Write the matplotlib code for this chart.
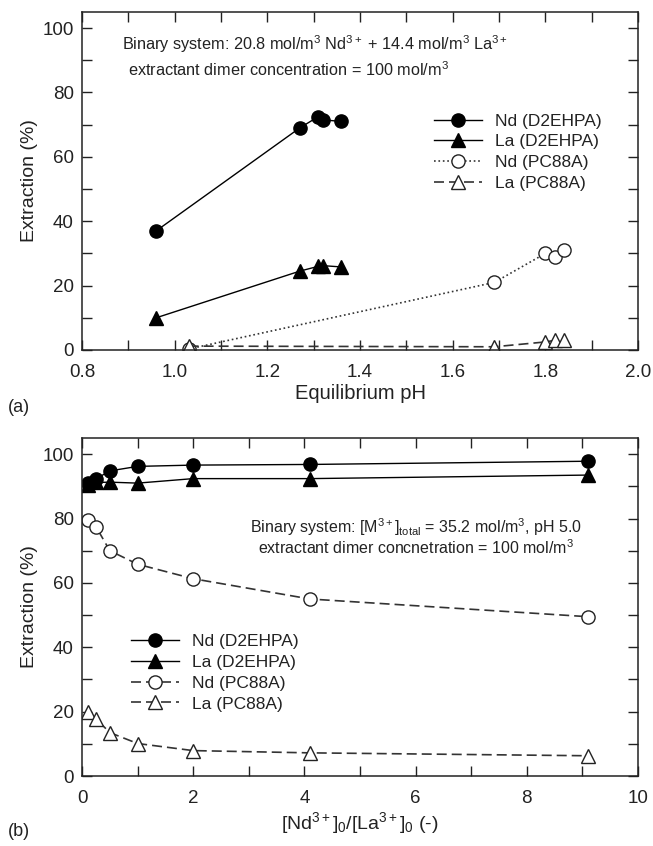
import matplotlib
matplotlib.use("Agg")
import matplotlib.pyplot as plt
from matplotlib.ticker import MultipleLocator

plt.rcParams['font.family'] = ['Liberation Sans', 'DejaVu Sans']
plt.rcParams['mathtext.fontset'] = 'custom'
plt.rcParams['mathtext.rm'] = 'Liberation Sans'
plt.rcParams['mathtext.it'] = 'Liberation Sans:italic'
plt.rcParams['mathtext.bf'] = 'Liberation Sans:bold'

TXT = '#222222'

# ---- Panel (a) data ----
ph_nd_d2 = [0.96, 1.27, 1.31, 1.32, 1.36]
ext_nd_d2 = [37, 69, 72.5, 71.5, 71]
ph_la_d2 = [0.96, 1.27, 1.31, 1.32, 1.36]
ext_la_d2 = [10, 24.5, 26, 26.2, 25.8]
ph_nd_pc = [1.03, 1.69, 1.80, 1.82, 1.84]
ext_nd_pc = [0.3, 21, 30, 29, 31]
ph_la_pc = [1.03, 1.69, 1.80, 1.82, 1.84]
ext_la_pc = [1.2, 1.0, 2.5, 3.0, 3.2]

# ---- Panel (b) data ----
ratio = [0.1, 0.25, 0.5, 1.0, 2.0, 4.1, 9.1]
b_nd_d2 = [91, 92.3, 94.8, 96.2, 96.6, 96.8, 97.8]
b_la_d2 = [90.5, 91.2, 91.3, 91.0, 92.4, 92.4, 93.5]
b_nd_pc = [79.5, 77.5, 70, 65.8, 61.3, 55, 49.5]
b_la_pc = [20, 17.8, 13.5, 10.1, 7.9, 7.2, 6.3]

legend_labels = ['Nd (D2EHPA)', 'La (D2EHPA)', 'Nd (PC88A)', 'La (PC88A)']

fig = plt.figure(figsize=(6.53, 8.46), dpi=100)
ax1 = fig.add_axes([0.1256, 0.5863, 0.8515, 0.3995])
ax2 = fig.add_axes([0.1256, 0.0827, 0.8515, 0.3995])

ms = 9.5
lw = 1.0
styles = [
    dict(marker='o', color='black', mfc='black', mec='black', ls='-', lw=lw, ms=ms),
    dict(marker='^', color='black', mfc='black', mec='black', ls='-', lw=lw, ms=ms),
    dict(marker='o', color='#333333', mfc='white', mec='#222222', ls=':', lw=1.2, ms=ms, mew=1.0),
    dict(marker='^', color='#333333', mfc='white', mec='#222222', ls=(0, (6, 3)), lw=1.2, ms=ms, mew=1.0),
]
styles_b = [dict(s) for s in styles]
styles_b[2]['ls'] = (0, (6, 3))

ax1.plot(ph_nd_d2, ext_nd_d2, label=legend_labels[0], **styles[0])
ax1.plot(ph_la_d2, ext_la_d2, label=legend_labels[1], **styles[1])
ax1.plot(ph_nd_pc, ext_nd_pc, label=legend_labels[2], **styles[2])
ax1.plot(ph_la_pc, ext_la_pc, label=legend_labels[3], **styles[3])

ax2.plot(ratio, b_nd_d2, label=legend_labels[0], **styles_b[0])
ax2.plot(ratio, b_la_d2, label=legend_labels[1], **styles_b[1])
ax2.plot(ratio, b_nd_pc, label=legend_labels[2], **styles_b[2])
ax2.plot(ratio, b_la_pc, label=legend_labels[3], **styles_b[3])

for ax in (ax1, ax2):
    ax.set_ylim(0, 105)
    ax.yaxis.set_major_locator(MultipleLocator(20))
    ax.yaxis.set_minor_locator(MultipleLocator(10))
    ax.tick_params(which='both', direction='in', top=True, right=True,
                   length=7, width=1, labelsize=13.5, colors='#222222')
    ax.tick_params(axis='y', pad=6)
    ax.tick_params(axis='x', pad=10)
    for sp in ax.spines.values():
        sp.set_linewidth(1.1)
        sp.set_color('#222222')
    ax.set_ylabel('Extraction (%)', fontsize=14, color=TXT, labelpad=3)

ax1.set_xlim(0.8, 2.0)
ax1.xaxis.set_major_locator(MultipleLocator(0.2))
ax1.xaxis.set_minor_locator(MultipleLocator(0.1))
ax1.xaxis.set_major_formatter(matplotlib.ticker.FormatStrFormatter('%.1f'))
ax1.set_xlabel('Equilibrium pH', fontsize=14.5, color=TXT, labelpad=2)

ax2.set_xlim(0, 10)
ax2.xaxis.set_major_locator(MultipleLocator(2))
ax2.xaxis.set_minor_locator(MultipleLocator(1))
ax2.set_xlabel(r'[Nd$^{3+}$]$_0$/[La$^{3+}$]$_0$ (-)', fontsize=14, color=TXT, labelpad=2)

ax1.text(0.072, 0.905,
         r'Binary system: 20.8 mol/m$^3$ Nd$^{3+}$ + 14.4 mol/m$^3$ La$^{3+}$',
         transform=ax1.transAxes, fontsize=11.7, color=TXT, va='center')
ax1.text(0.082, 0.83,
         r'extractant dimer concentration = 100 mol/m$^3$',
         transform=ax1.transAxes, fontsize=11.7, color=TXT, va='center')

ax2.text(0.6, 0.737,
         r'Binary system: [M$^{3+}$]$_{\mathrm{total}}$ = 35.2 mol/m$^3$, pH 5.0',
         transform=ax2.transAxes, fontsize=11.5, color=TXT, va='center', ha='center')
ax2.text(0.6, 0.675,
         r'extractant dimer concnetration = 100 mol/m$^3$',
         transform=ax2.transAxes, fontsize=11.5, color=TXT, va='center', ha='center')

leg_kw = dict(frameon=False, fontsize=12.5, handlelength=2.8, handletextpad=0.75,
              labelspacing=0.32, borderaxespad=0.0, labelcolor=TXT)
ax1.legend(loc='upper left', bbox_to_anchor=(0.62, 0.72), **leg_kw)
ax2.legend(loc='upper left', bbox_to_anchor=(0.075, 0.44), **leg_kw)

fig.text(0.012, 0.518, '(a)', fontsize=13, color=TXT, va='center')
fig.text(0.012, 0.017, '(b)', fontsize=13, color=TXT, va='center')

fig.savefig('out.png', dpi=100, facecolor='white')
